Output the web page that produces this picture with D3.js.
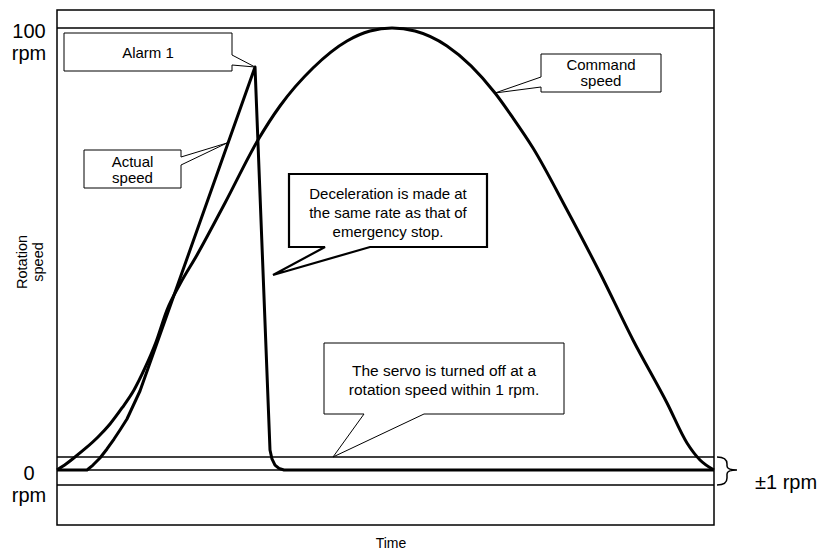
<!DOCTYPE html>
<html>
<head>
<meta charset="utf-8">
<script src="https://cdn.jsdelivr.net/npm/d3@7"></script>
<style>
  html, body { margin: 0; padding: 0; background: #fff; }
  svg { display: block; font-family: "Liberation Sans", Arial, sans-serif; }
</style>
</head>
<body>
<svg id="chart" width="834" height="550"></svg>
<script>
// ---- data ----
const timeDomain = [0, 100];
const commandTime  = [0, 1.37, 2.74, 4.41, 6.24, 8.07, 9.89, 11.72, 13.39, 15.07, 16.74, 18.72, 21.31, 25.57, 30.59, 33.94, 38.96, 44.14, 47.64, 50.99, 54.49, 59.36, 66.67, 69.41, 72.45, 77.63, 82.65, 87.67, 92.85, 95.89, 97.87, 100];
const commandSpeed = [0, 0.46, 1.0, 3.08, 5.62, 8.62, 12.31, 16.46, 21.54, 27.54, 34.92, 40.92, 47.62, 59.62, 74.15, 82.0, 90.77, 97.0, 99.3, 100, 99.3, 95.85, 85.0, 79.23, 72.31, 58.0, 43.46, 28.0, 13.46, 4.23, 0.77, 0];
const actualTime   = [0, 4.57, 5.48, 6.54, 7.61, 8.68, 9.59, 10.65, 11.57, 12.63, 30.14, 32.42, 32.72, 33.18, 33.79, 34.55, 100];
const actualSpeed  = [0, 0, 0.38, 0.92, 2.85, 5.15, 7.23, 9.77, 12.77, 16.23, 91.0, 2.62, 0.85, 0.38, 0.12, 0, 0];
const bandValues = [1, 0, -1];
const topValue = 100;
const tickValues = [100, 0];
const tickLabels = [["100", "rpm"], ["0", "rpm"]];
const yAxisTitle = ["Rotation", "speed"];
const xAxisTitle = "Time";
const bandLabel = "±1 rpm";

// ---- scales ----
const svg = d3.select("#chart");
const x = d3.scaleLinear().domain(timeDomain).range([57, 714]);
const y = d3.scaleLinear().domain([-1, 0, 1, 100]).range([485, 470, 457, 28]);

// frame
svg.append("rect").attr("x", 57).attr("y", 10).attr("width", 657).attr("height", 515)
  .attr("fill", "none").attr("stroke", "#000").attr("stroke-width", 1.5);

// 100 rpm line and band lines
svg.selectAll("line.h").data([topValue, ...bandValues]).join("line").attr("class", "h")
  .attr("x1", x(timeDomain[0])).attr("x2", x(timeDomain[1]))
  .attr("y1", d => y(d)).attr("y2", d => y(d))
  .attr("stroke", "#000").attr("stroke-width", 1.3);

// tick labels
tickValues.forEach((v, i) => {
  const t = svg.append("text").attr("text-anchor", "middle").attr("font-size", 20).attr("fill", "#000");
  t.append("tspan").attr("x", 29).attr("y", y(v) + 9.5).text(tickLabels[i][0]);
  t.append("tspan").attr("x", 29).attr("y", y(v) + 32).text(tickLabels[i][1]);
});

// axis titles
const yt = svg.append("text").attr("text-anchor", "middle").attr("font-size", 14.5)
  .attr("transform", "translate(27,262) rotate(-90)");
yt.append("tspan").attr("x", 0).attr("y", 0).text(yAxisTitle[0]);
yt.append("tspan").attr("x", 0).attr("y", 16).text(yAxisTitle[1]);
svg.append("text").attr("x", 391).attr("y", 548).attr("text-anchor", "middle")
  .attr("font-size", 14).text(xAxisTitle);

// curves
const cmdLine = d3.line().x(d => x(d[0])).y(d => y(d[1])).curve(d3.curveMonotoneX);
const actLine = d3.line().x(d => x(d[0])).y(d => y(d[1])).curve(d3.curveLinear);
const cmd = commandTime.map((t, i) => [t, commandSpeed[i]]);
const act = actualTime.map((t, i) => [t, actualSpeed[i]]);
svg.append("path").attr("d", cmdLine(cmd)).attr("fill", "none").attr("stroke", "#000").attr("stroke-width", 3).attr("stroke-linejoin", "round");
svg.append("path").attr("d", actLine(act)).attr("fill", "none").attr("stroke", "#000").attr("stroke-width", 3).attr("stroke-linejoin", "round");

// bracket
svg.append("path")
  .attr("d", `M717,${y(1)} Q727,${y(1)} 727,${y(1)+7} L727,${y(0)-4} Q727,${y(0)} 737,${y(0)} Q727,${y(0)} 727,${y(0)+4} L727,${y(-1)-7} Q727,${y(-1)} 717,${y(-1)}`)
  .attr("fill", "none").attr("stroke", "#000").attr("stroke-width", 1.5);
svg.append("text").attr("x", 755).attr("y", 489).attr("font-size", 20).text(bandLabel);

// callouts
const peakIdx = actualSpeed.indexOf(d3.max(actualSpeed));
const alarmTip = [x(actualTime[peakIdx]), y(actualSpeed[peakIdx])];
function callout(path, lines, cx, y0, dy, fs, sw) {
  svg.append("path").attr("d", path).attr("fill", "#fff").attr("stroke", "#000").attr("stroke-width", sw).attr("stroke-linejoin", "miter");
  const t = svg.append("text").attr("text-anchor", "middle").attr("font-size", fs);
  lines.forEach((l, i) => t.append("tspan").attr("x", cx).attr("y", y0 + i * dy).text(l));
}
callout(`M64,33 H232 V55 L${alarmTip[0]},${alarmTip[1]} L232,65 V71 H64 Z`, ["Alarm 1"], 148, 58, 16, 15, 1);
callout(`M84,150 H181 V157 L227,143 L181,165 V188 H84 Z`, ["Actual", "speed"], 132.5, 167, 16, 15, 1);
callout(`M541,54 H661 V92 H541 V87 L495,93 L541,77 Z`, ["Command", "speed"], 601, 70, 16, 15, 1);
callout(`M289,174 H487 V247 H370 L273,275 L325,247 H289 Z`, ["Deceleration is made at", "the same rate as that of", "emergency stop."], 388, 199, 19, 15, 2.2);
callout(`M324,343 H564 V414 H424 L333,${y(1)} L364,414 H324 Z`, ["The servo is turned off at a", "rotation speed within 1 rpm."], 444, 376, 18.5, 15.5, 1);
</script>
</body>
</html>
